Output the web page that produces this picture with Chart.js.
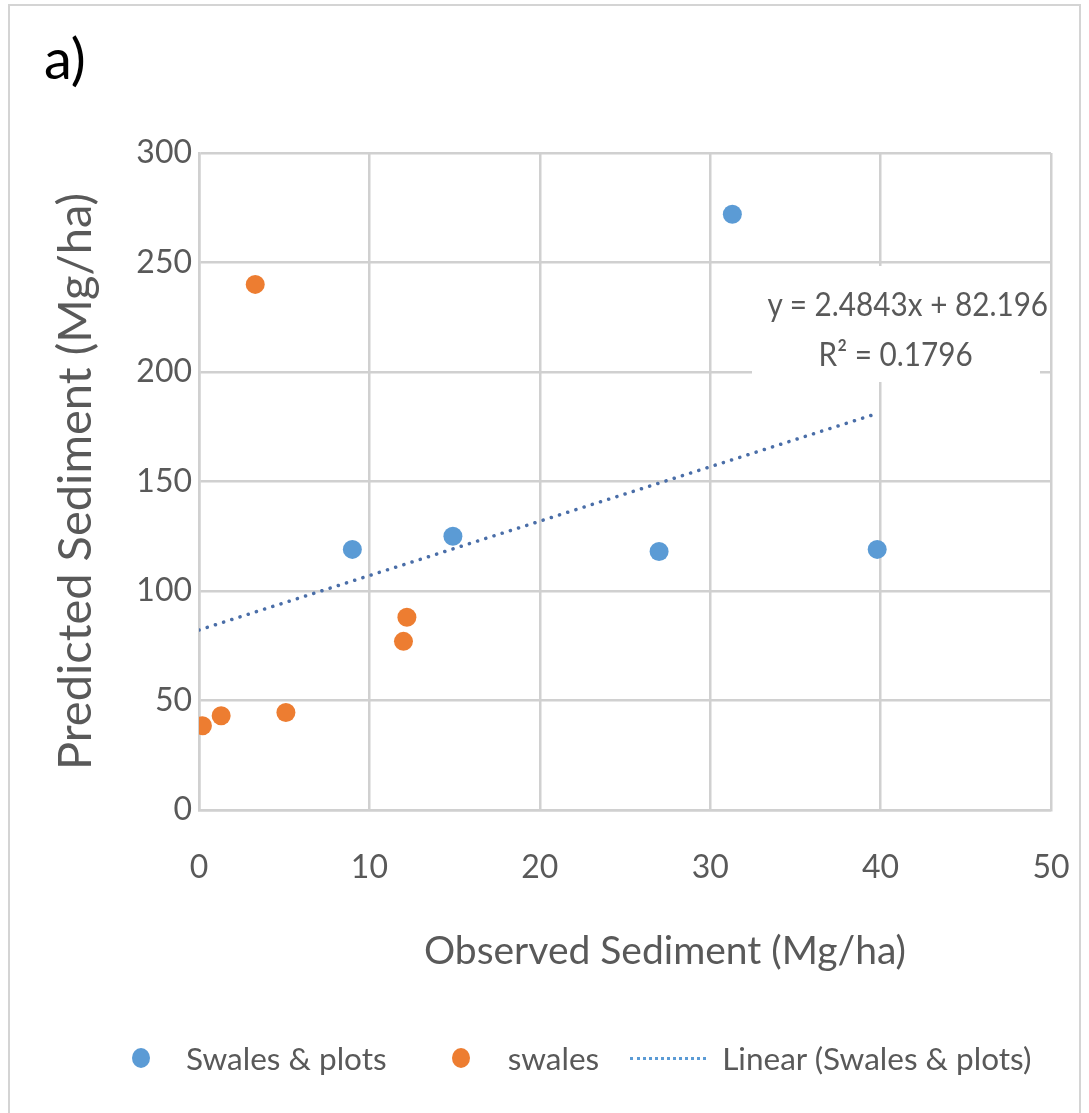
<!DOCTYPE html>
<html>
<head>
<meta charset="utf-8">
<script src="https://cdn.jsdelivr.net/npm/chart.js@4.4.1/dist/chart.umd.min.js"></script>
<style>
    html, body { margin: 0; padding: 0; background: #fff; }
    #wrap { position: relative; width: 1089px; height: 1113px; font-family: Lato, sans-serif; }
    #frame { position: absolute; left: 8px; top: 4px; width: 1073px; height: 1120px;
             border: 2px solid #d4d4d4; box-sizing: border-box; }
    #panel { position: absolute; left: 44px; top: 24px; font-size: 56px; color: #000; }
    #eq { position: absolute; left: 752px; top: 266px; width: 288px; height: 116px; box-sizing: border-box;
          padding-top: 12px; background: #fff; color: #595959; font-size: 33px; text-align: center;
          line-height: 50px; white-space: nowrap; }
    #eq span { display: inline-block; transform: scaleX(0.9); }
    #xTitle { position: absolute; left: 365px; width: 600px; top: 926px; text-align: center;
              font-size: 39px; color: #595959; white-space: nowrap; }
    #legend { position: absolute; top: 1036px; left: 0; height: 44px; display: flex; align-items: center;
              font-size: 31.5px; color: #595959; white-space: nowrap; }
    .dot { display: inline-block; width: 18px; height: 20px; border-radius: 50%; }
    .dash { display: inline-block; width: 76px; border-top: 3px dotted #5b9bd5; }
</style>
</head>
<body>
<div id="wrap">
    <canvas id="sedimentChart" width="1089" height="1113"></canvas>
    <div id="frame"></div>
    <div id="panel">a)</div>
    <div id="eq"><span>y = 2.4843x + 82.196</span><br><span>R² = 0.1796</span></div>
    <div id="xTitle">Observed Sediment (Mg/ha)</div>
    <div id="legend">
        <span class="dot" style="background:#5b9bd5; margin-left:132px"></span>
        <span style="margin-left:36px">Swales &amp; plots</span>
        <span class="dot" style="background:#ed7d31; margin-left:65px"></span>
        <span style="margin-left:38px">swales</span>
        <span class="dash" style="margin-left:31px"></span>
        <span style="margin-left:16px">Linear (Swales &amp; plots)</span>
    </div>
</div>
<script>
// observed vs predicted sediment, Mg/ha
var plotsObserved = [9.0, 14.9, 27.0, 31.3, 39.8];
var plotsPredicted = [119, 125, 118, 272, 119];
var swalesObserved = [0.2, 1.3, 3.3, 5.1, 12.0, 12.2];
var swalesPredicted = [38.5, 43, 240, 44.5, 77, 88];

// linear fit for "Swales & plots"
var fitSlope = 2.4843;
var fitIntercept = 82.196;

var xTicks = [0, 10, 20, 30, 40, 50];
var yTicks = [0, 50, 100, 150, 200, 250, 300];

function toPoints(xs, ys) {
    return xs.map(function (x, i) { return { x: x, y: ys[i] }; });
}

var fitEnd = Math.max.apply(null, plotsObserved);
var fitLine = [
    { x: 0, y: fitIntercept },
    { x: fitEnd, y: fitSlope * fitEnd + fitIntercept },
];

var gridColor = '#d0d0d0';
var textColor = '#595959';

var ctx = document.getElementById('sedimentChart').getContext('2d');

var data = {
    datasets: [
        {
            label: 'Swales & plots',
            data: toPoints(plotsObserved, plotsPredicted),
            backgroundColor: '#5b9bd5',
            borderColor: '#5b9bd5',
            pointRadius: 9.5,
            borderWidth: 0,
        },
        {
            label: 'swales',
            data: toPoints(swalesObserved, swalesPredicted),
            backgroundColor: '#ed7d31',
            borderColor: '#ed7d31',
            pointRadius: 9.5,
            borderWidth: 0,
        },
        {
            label: 'Linear (Swales & plots)',
            type: 'line',
            data: fitLine,
            borderColor: '#4a6ea8',
            borderWidth: 3.5,
            borderDash: [0.1, 8.5],
            borderCapStyle: 'round',
            pointRadius: 0,
            fill: false,
        },
    ],
};

var options = {
    responsive: false,
    animation: false,
    layout: {
        padding: { left: 10, right: 38, top: 153, bottom: 123 },
    },
    plugins: {
        legend: { display: false },
        tooltip: { enabled: false },
    },
    scales: {
        x: {
            type: 'linear',
            min: 0,
            max: 50,
            afterBuildTicks: function (scale) {
                scale.ticks = xTicks.map(function (v) { return { value: v }; });
            },
            afterFit: function (scale) {
                // fixed band under the plot; let the layout padding set the right edge
                scale.height = 180;
                scale.paddingLeft = 0;
                scale.paddingRight = 0;
            },
            grid: { color: gridColor, lineWidth: 2.5, drawTicks: false },
            border: { color: gridColor, width: 2.5 },
            ticks: {
                color: textColor,
                font: { family: 'Lato', size: 32 },
                padding: 38,
            },
        },
        y: {
            min: 0,
            max: 300,
            afterBuildTicks: function (scale) {
                scale.ticks = yTicks.map(function (v) { return { value: v }; });
            },
            afterFit: function (scale) { scale.width = 189; },
            grid: { color: gridColor, lineWidth: 2.5, drawTicks: false },
            border: { color: gridColor, width: 2.5 },
            ticks: {
                color: textColor,
                font: { family: 'Lato', size: 32 },
                padding: 7,
            },
            title: {
                display: true,
                text: 'Predicted Sediment (Mg/ha)',
                color: textColor,
                font: { family: 'Lato', size: 47 },
                padding: { top: 38, bottom: 0 },
            },
        },
    },
};

var config = {
    type: 'scatter',
    data: data,
    options: options,
};

var sedimentChart = new Chart(ctx, config);
</script>
</body>
</html>
